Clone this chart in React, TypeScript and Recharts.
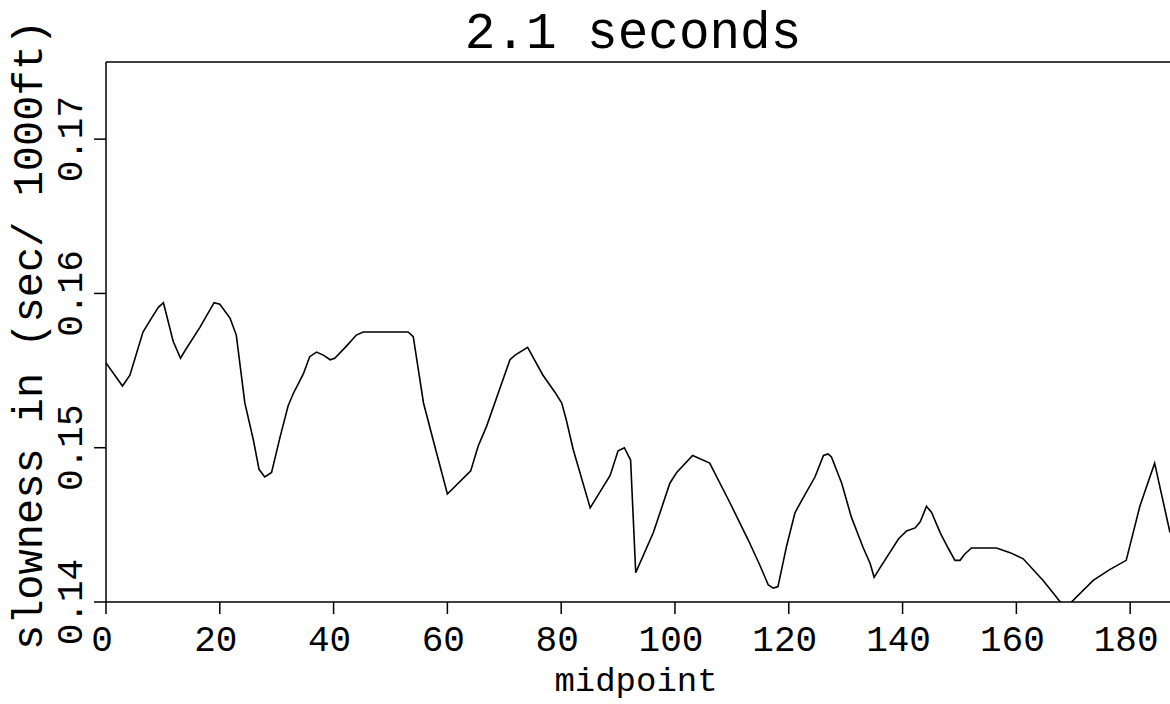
import { LineChart, Line, XAxis, YAxis, ReferenceLine } from "recharts";

const midpoints = [
  0, 2.9, 4.2, 6.5, 8.0, 9.2, 10.1, 11.8, 13.1, 13.9, 16.5, 19.0, 20.0, 21.8, 22.9,
  24.4, 25.9, 26.9, 27.9, 29.1, 30.6, 32.0, 32.9, 34.7, 35.8, 37.0, 38.2, 39.4, 40.2,
  42.3, 44.0, 45.2, 53.1, 54.0, 55.8, 57.5, 60.0, 64.1, 65.4, 66.9, 71.0, 71.9, 74.1,
  76.8, 78.9, 80.1, 80.9, 82.1, 85.1, 88.6, 90.0, 91.1, 92.2, 93.1, 96.2, 99.1, 100.3,
  103.1, 106.1, 109.7, 112.9, 114.9, 116.4, 117.3, 118.1, 119.6, 121.1, 122.3, 124.6,
  126.1, 126.9, 127.5, 129.3, 131.0, 133.1, 134.3, 135.0, 136.0, 139.3, 140.7, 142.2,
  143.1, 144.2, 145.1, 146.6, 148.0, 149.2, 150.1, 150.9, 152.1, 156.5, 158.9, 161.2,
  164.7, 168.6, 173.5, 176.4, 179.3, 181.7, 184.3, 187.0,
];

const slowness = [
  0.1555, 0.154, 0.1547, 0.1575, 0.1584, 0.1591, 0.1594, 0.1569, 0.1558, 0.1563, 0.1578,
  0.1594, 0.1593, 0.1584, 0.1573, 0.1529, 0.1505, 0.1486, 0.1481, 0.1484, 0.1507, 0.1527,
  0.1535, 0.1548, 0.1559, 0.1562, 0.156, 0.1557, 0.1558, 0.1566, 0.1573, 0.1575, 0.1575,
  0.1572, 0.1529, 0.1505, 0.147, 0.1485, 0.1501, 0.1514, 0.1557, 0.156, 0.1565, 0.1547,
  0.1536, 0.1529, 0.1518, 0.1499, 0.1461, 0.1482, 0.1498, 0.15, 0.1492, 0.1419, 0.1445,
  0.1477, 0.1484, 0.1495, 0.149, 0.1464, 0.144, 0.1424, 0.1411, 0.1409, 0.141, 0.1436,
  0.1458, 0.1466, 0.1481, 0.1495, 0.1496, 0.1494, 0.1477, 0.1455, 0.1435, 0.1425, 0.1416,
  0.1422, 0.1441, 0.1446, 0.1448, 0.1452, 0.1462, 0.1458, 0.1445, 0.1435, 0.1427, 0.1427,
  0.1431, 0.1435, 0.1435, 0.1432, 0.1428, 0.1414, 0.1396, 0.1414, 0.1421, 0.1427, 0.1462,
  0.149, 0.1445,
];

const xTicks = [0, 20, 40, 60, 80, 100, 120, 140, 160, 180];
const yTicks = [0.14, 0.15, 0.16, 0.17];

const data = midpoints.map((m, i) => ({ midpoint: m, slowness: slowness[i] }));

const FONT = "'Liberation Mono', 'DejaVu Sans Mono', monospace";

function XTick(props: any) {
  const { x, y, payload } = props;
  return (
    <text x={x - 4} y={y + 35} textAnchor="middle" fontFamily={FONT} fontSize={36} fill="#000">
      {payload.value}
    </text>
  );
}

function YTick(props: any) {
  const { x, y, payload } = props;
  const bx = x - 10;
  return (
    <text
      x={bx}
      y={y}
      transform={`rotate(-90 ${bx} ${y})`}
      textAnchor="middle"
      fontFamily={FONT}
      fontSize={36}
      fill="#000"
    >
      {payload.value.toFixed(2)}
    </text>
  );
}

export default function App() {
  return (
    <div style={{ position: "absolute", left: 0, top: 0, width: 1170, height: 704, background: "#fff" }}>
      <LineChart width={1170} height={704} data={data} margin={{ top: 62, right: 0, bottom: 0, left: 0 }}>
        <XAxis
          dataKey="midpoint"
          type="number"
          domain={[0, 187]}
          ticks={xTicks}
          allowDataOverflow
          height={102}
          tickSize={12}
          tickMargin={2}
          axisLine={{ stroke: "#000", strokeWidth: 1.5 }}
          tickLine={{ stroke: "#000", strokeWidth: 1.5 }}
          tick={(p: any) => <XTick {...p} />}
        />
        <YAxis
          type="number"
          domain={[0.14, 0.175]}
          ticks={yTicks}
          allowDataOverflow
          width={106}
          tickSize={12}
          tickMargin={2}
          axisLine={{ stroke: "#000", strokeWidth: 1.5 }}
          tickLine={{ stroke: "#000", strokeWidth: 1.5 }}
          tick={(p: any) => <YTick {...p} />}
        />
        <ReferenceLine y={0.175} stroke="#000" strokeWidth={1.5} />
        <Line
          type="linear"
          dataKey="slowness"
          stroke="#000"
          strokeWidth={1.6}
          dot={false}
          isAnimationActive={false}
        />
        <text x={633} y={48} textAnchor="middle" fontFamily={FONT} fontSize={51} fill="#000">
          2.1 seconds
        </text>
        <text x={636} y={691} textAnchor="middle" fontFamily={FONT} fontSize={34} fill="#000">
          midpoint
        </text>
        <text
          x={42}
          y={335}
          transform="rotate(-90 42 335)"
          textAnchor="middle"
          fontFamily={FONT}
          fontSize={42}
          fill="#000"
        >
          slowness in (sec/ 1000ft)
        </text>
      </LineChart>
    </div>
  );
}
